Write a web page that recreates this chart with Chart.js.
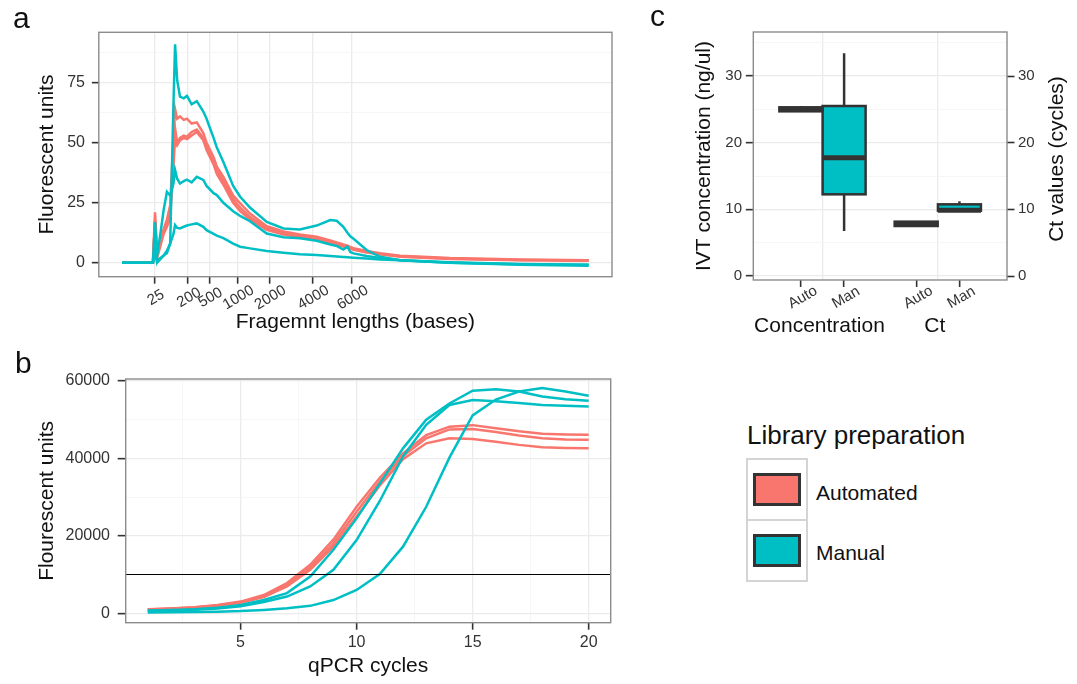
<!DOCTYPE html>
<html>
<head>
<meta charset="utf-8">
<title>Library preparation comparison</title>
<script src="https://cdn.jsdelivr.net/npm/chart.js@4.4.1/dist/chart.umd.min.js"></script>
<style>
  html, body { margin: 0; padding: 0; background: #fff; }
  body { position: relative; width: 1077px; height: 684px; overflow: hidden;
         font-family: "Liberation Sans", Arial, Helvetica, sans-serif; color: #111; }
  canvas { position: absolute; }
  .tag { position: absolute; font-size: 30px; line-height: 1; }
  .lt { position: absolute; left: 747px; top: 422px; font-size: 26px; line-height: 1; white-space: nowrap; }
  .cell { position: absolute; left: 746px; width: 62px; height: 63px; box-sizing: border-box; border: 2px solid #d4d4d4; }
  .sw { position: absolute; left: 5px; top: 13px; width: 48px; height: 33px; box-sizing: border-box; border: 3px solid #333; }
  .lab { position: absolute; left: 816px; font-size: 21px; line-height: 1; white-space: nowrap; }
</style>
</head>
<body>
<canvas id="chartA" width="640" height="342" style="left:0;top:0"></canvas>
<canvas id="chartB" width="640" height="342" style="left:0;top:342px"></canvas>
<canvas id="chartC" width="437" height="342" style="left:640px;top:0"></canvas>
<div class="tag" style="left:13px;top:3px">a</div>
<div class="tag" style="left:15px;top:348px">b</div>
<div class="tag" style="left:650px;top:1px">c</div>
<div id="legend"></div>
<script>
Chart.defaults.font.family = "'Liberation Sans', Arial, Helvetica, sans-serif";
Chart.defaults.color = '#333';

// groups
const groups = ['Automated', 'Manual'];
const groupColors = ['#F8766D', '#00BFC4'];

// a: Bioanalyzer traces, x = migration time (arbitrary units), ladder sizes as tick labels
const ladderSizes = ['25', '200', '500', '1000', '2000', '4000', '6000'];
const ladderTimes = [7.05, 14.13, 18.73, 24.74, 31.56, 40.78, 49.22];
const traceTime = [0, 6.6, 7.05, 7.5, 8.2, 8.9, 9.6, 10.3, 11.0, 11.35,
  11.8, 12.4, 13.2, 13.9, 14.9, 16.0, 17.4, 18.1, 19.6, 20.3,
  21.7, 23.8, 25.3, 27.4, 31.0, 34.6, 38.1, 41.7, 44.6, 46.0,
  47.4, 48.3, 48.9, 49.6, 52.4, 55.3, 59.6, 70.3, 85.3, 100];
const traceAuto1 = [0, 0, 21, 4, 9, 14, 18, 24, 52, 64,
  60, 61, 59.5, 60, 58, 58.5, 54, 50, 44, 40,
  35.8, 28, 24.8, 20.5, 15.2, 13, 11.8, 10.9, 9.3, 8.5,
  7.6, 7.1, 6.6, 6.1, 4.9, 4.0, 2.9, 2.0, 1.4, 1.1];
const traceAuto2 = [0, 0, 18, 3, 8, 13, 16, 21, 45, 56,
  50, 52, 53, 52.5, 54.5, 55.5, 52, 48, 42, 38.5,
  34, 26.5, 23, 19, 14.4, 12.3, 11.2, 10.3, 8.7, 8.0,
  7.2, 6.7, 6.3, 5.8, 4.6, 3.7, 2.7, 1.8, 1.2, 0.9];
const traceAuto3 = [0, 0, 17, 2, 7, 12, 15, 19, 40, 52,
  49, 51, 52, 51.5, 53, 54.5, 51, 47, 41, 37,
  32.5, 25, 21.5, 18, 13.7, 11.8, 10.7, 9.8, 8.2, 7.5,
  6.8, 6.3, 5.9, 5.4, 4.3, 3.5, 2.5, 1.6, 1.1, 0.8];
const traceMan1 = [0, 0, 3, 1, 2, 3, 4, 8, 66, 91,
  76, 69.2, 68.5, 69.5, 66, 67.3, 63, 60, 52, 48,
  42, 32, 27.5, 23, 17, 14.3, 13.9, 15.5, 17.8, 17.5,
  15, 12.5, 11, 10, 5.3, 2.5, 1.1, 0, -0.8, -1.2];
const traceMan2 = [0, 0, 17, 3, 12, 22, 29.6, 28, 33, 38.6,
  35, 33, 34, 34.6, 33.5, 35.8, 34.5, 32, 29, 28.2,
  25, 21.5, 19.5, 17.3, 12.2, 10.6, 10.2, 9.2, 7.6, 7.0,
  5.5, 6.7, 4.5, 3.9, 2.8, 2.0, 1.1, 0, -0.6, -0.8];
const traceMan3 = [0, 0, 5, 0, 1.5, 3, 5, 8, 12, 15.7,
  14.5, 14.3, 15, 15.5, 16, 16.4, 15, 13.6, 12, 11.3,
  10.3, 8.0, 6.7, 6.0, 4.9, 4.2, 3.6, 3.2, 2.8, 2.6,
  2.4, 2.3, 2.2, 2.1, 1.8, 1.4, 1.1, 0.2, -0.5, -0.8];
const traceTicks = [0, 25, 50, 75];

// b: qPCR amplification curves
const cycles = [1, 2, 3, 4, 5, 6, 7, 8, 9, 10, 11, 12, 13, 14, 15, 16, 17, 18, 19, 20];
const qpcrAuto1 = [1000, 1250, 1550, 2100, 3000, 4700, 7800, 12500, 19000, 27500, 35000, 41300, 46000, 48200, 48600, 47800, 47000, 46400, 46200, 46100];
const qpcrAuto2 = [950, 1200, 1500, 2000, 2850, 4400, 7300, 11800, 18000, 26200, 34000, 40600, 45200, 47500, 47600, 46800, 45900, 45200, 44900, 44800];
const qpcrAuto3 = [900, 1100, 1400, 1900, 2700, 4200, 6900, 11200, 17200, 25000, 33000, 39800, 43900, 45200, 45000, 44300, 43500, 42900, 42700, 42600];
const qpcrMan1 = [700, 800, 1000, 1400, 2100, 3400, 5200, 9500, 16400, 24500, 33500, 42600, 50000, 54200, 57500, 57900, 57300, 56000, 55300, 54900];
const qpcrMan2 = [600, 700, 900, 1200, 1800, 2900, 4300, 6900, 11200, 18900, 29000, 40500, 48700, 53800, 55100, 54800, 54300, 53800, 53600, 53400];
const qpcrMan3 = [200, 250, 300, 400, 550, 860, 1300, 1900, 3400, 6000, 10100, 17200, 27500, 40200, 51100, 55200, 57300, 58200, 57300, 56200];
const qpcrThreshold = 10000;
const cycleTicks = [5, 10, 15, 20];
const qpcrTicks = [0, 20000, 40000, 60000];

// c: boxplots (IVT concentration and Ct)
const boxCats = ['Concentration', 'Ct'];
const boxSubLabels = ['Auto', 'Man'];
const autoMin = [24.7, 7.5];
const autoQ1 = [24.7, 7.5];
const autoMed = [25.0, 7.8];
const autoQ3 = [25.3, 8.15];
const autoMax = [25.5, 8.25];
const manMin = [6.75, 9.8];
const manQ1 = [12.25, 9.8];
const manMed = [17.75, 9.85];
const manQ3 = [25.5, 10.75];
const manMax = [33.4, 11.2];
const boxTicks = [0, 10, 20, 30];

// ---- shared helpers
const GRID = '#EBEBEB', GRID_MINOR = '#F4F4F4', INK = '#333';
const fontFam = "'Liberation Sans', Arial, Helvetica, sans-serif";

function fixSize(w, h) {
  return s => {
    if (w !== null) s.width = w;
    if (h !== null) s.height = h;
    s.paddingTop = 0; s.paddingBottom = 0; s.paddingLeft = 0; s.paddingRight = 0;
  };
}
function withMinor(majors) {
  const step = majors[1] - majors[0];
  const out = [];
  majors.forEach(v => { out.push(v); out.push(v + step / 2); });
  out.push(majors[0] - step / 2);
  return out.sort((a, b) => a - b);
}
function gridFor(majors, tickLen) {
  const isMajor = c => c.tick && majors.includes(c.tick.value);
  return {
    color: c => isMajor(c) ? GRID : GRID_MINOR,
    lineWidth: c => isMajor(c) ? 1.3 : 0.8,
    tickColor: c => isMajor(c) ? INK : 'rgba(0,0,0,0)',
    tickLength: tickLen,
    tickWidth: 1.6
  };
}
function lineSet(xs, ys, color) {
  return {
    data: xs.map((x, i) => ({ x: x, y: ys[i] })),
    borderColor: color, borderWidth: 2.5, pointRadius: 0, tension: 0, fill: false
  };
}
const panelBorder = {
  id: 'panelBorder',
  afterDraw(chart) {
    const { ctx, chartArea: a } = chart;
    ctx.save();
    ctx.strokeStyle = '#8c8c8c';
    ctx.lineWidth = 1.4;
    ctx.strokeRect(a.left, a.top, a.right - a.left, a.bottom - a.top);
    ctx.restore();
  }
};
const baseOpts = { responsive: false, animation: false, events: [],
  plugins: { legend: { display: false }, tooltip: { enabled: false } } };

// ---- a
const ladderLabels = {
  id: 'ladderLabels',
  afterDraw(chart) {
    const { ctx, scales: { x }, chartArea } = chart;
    ctx.save();
    ctx.font = '15px ' + fontFam;
    ctx.fillStyle = INK;
    ctx.textAlign = 'center';
    ctx.textBaseline = 'middle';
    ladderTimes.forEach((t, i) => {
      ctx.save();
      ctx.translate(x.getPixelForValue(t) + 1, chartArea.bottom + 21);
      ctx.rotate(-Math.PI / 6);
      ctx.fillText(ladderSizes[i], 0, 0);
      ctx.restore();
    });
    ctx.restore();
  }
};

new Chart(document.getElementById('chartA'), {
  type: 'line',
  data: {
    datasets: [
      lineSet(traceTime, traceMan1, groupColors[1]),
      lineSet(traceTime, traceMan2, groupColors[1]),
      lineSet(traceTime, traceMan3, groupColors[1]),
      lineSet(traceTime, traceAuto1, groupColors[0]),
      lineSet(traceTime, traceAuto2, groupColors[0]),
      lineSet(traceTime, traceAuto3, groupColors[0])
    ]
  },
  options: {
    ...baseOpts,
    layout: { padding: { top: 32.3, right: 28, left: 0, bottom: 0 } },
    scales: {
      x: {
        type: 'linear', min: -5, max: 105, offset: false,
        afterFit: fixSize(null, 65.3),
        afterBuildTicks: s => { s.ticks = ladderTimes.map(v => ({ value: v })); },
        grid: gridFor(ladderTimes, 7),
        border: { display: false },
        ticks: { callback: () => '', autoSkip: false, maxRotation: 0 },
        title: { display: true, text: 'Fragemnt lengths (bases)', color: '#111',
                 font: { size: 21 }, padding: { top: 0, bottom: 6.7 } }
      },
      y: {
        min: -5.8, max: 96,
        afterFit: fixSize(98.8, null),
        afterBuildTicks: s => { s.ticks = withMinor(traceTicks).filter(v => v >= -5.8 && v <= 96).map(v => ({ value: v })); },
        grid: gridFor(traceTicks, 7),
        border: { display: false },
        ticks: { callback: v => traceTicks.includes(v) ? String(v) : '', font: { size: 16 }, padding: 6.8, autoSkip: false },
        title: { display: true, text: 'Fluorescent units', color: '#111',
                 font: { size: 21 }, padding: { top: 35.1, bottom: 0 } }
      }
    }
  },
  plugins: [ladderLabels, panelBorder]
});

// ---- b
const thresholdLine = {
  id: 'thresholdLine',
  afterDatasetsDraw(chart) {
    const { ctx, scales: { y }, chartArea: a } = chart;
    const py = y.getPixelForValue(qpcrThreshold);
    ctx.save();
    ctx.strokeStyle = '#000';
    ctx.lineWidth = 1.2;
    ctx.beginPath();
    ctx.moveTo(a.left, py);
    ctx.lineTo(a.right, py);
    ctx.stroke();
    ctx.restore();
  }
};

new Chart(document.getElementById('chartB'), {
  type: 'line',
  data: {
    datasets: [
      lineSet(cycles, qpcrMan1, groupColors[1]),
      lineSet(cycles, qpcrMan2, groupColors[1]),
      lineSet(cycles, qpcrMan3, groupColors[1]),
      lineSet(cycles, qpcrAuto1, groupColors[0]),
      lineSet(cycles, qpcrAuto2, groupColors[0]),
      lineSet(cycles, qpcrAuto3, groupColors[0])
    ]
  },
  options: {
    ...baseOpts,
    layout: { padding: { top: 37, right: 29.3, left: 0, bottom: 0 } },
    scales: {
      x: {
        type: 'linear', min: 0.05, max: 20.95, offset: false,
        afterFit: fixSize(null, 61.3),
        afterBuildTicks: s => { s.ticks = withMinor(cycleTicks).filter(v => v > 0.05 && v < 20.95).map(v => ({ value: v })); },
        grid: gridFor(cycleTicks, 7),
        border: { display: false },
        ticks: { callback: v => cycleTicks.includes(v) ? String(v) : '', font: { size: 16 }, padding: 3.2, autoSkip: false, maxRotation: 0 },
        title: { display: true, text: 'qPCR cycles', color: '#111',
                 font: { size: 21 }, padding: { top: 0, bottom: 5.2 } }
      },
      y: {
        min: -2450, max: 60520,
        afterFit: fixSize(125.7, null),
        afterBuildTicks: s => { s.ticks = withMinor(qpcrTicks).filter(v => v >= 0 && v <= 60520).map(v => ({ value: v })); },
        grid: gridFor(qpcrTicks, 8),
        border: { display: false },
        ticks: { callback: v => qpcrTicks.includes(v) ? String(v) : '', font: { size: 16 }, padding: 7.7, autoSkip: false },
        title: { display: true, text: 'Flourescent units', color: '#111',
                 font: { size: 21 }, padding: { top: 35.1, bottom: 0 } }
      }
    }
  },
  plugins: [thresholdLine, panelBorder]
});

// ---- c
const dodge = 0.1875;
const boxPositions = [];
boxCats.forEach((c, i) => { boxPositions.push(i + 1 - dodge, i + 1 + dodge); });
const catPositions = boxCats.map((c, i) => i + 1);

// whiskers, box outline (stroke centred on the edges) and median
const boxExtras = {
  id: 'boxExtras',
  afterDatasetsDraw(chart) {
    const { ctx, scales: { y } } = chart;
    const stats = [[autoMin, autoQ1, autoMed, autoQ3, autoMax], [manMin, manQ1, manMed, manQ3, manMax]];
    ctx.save();
    ctx.strokeStyle = INK;
    ctx.lineCap = 'butt';
    ctx.lineJoin = 'miter';
    stats.forEach((st, d) => {
      const meta = chart.getDatasetMeta(d);
      boxCats.forEach((c, i) => {
        const bar = meta.data[i];
        const [mn, q1, md, q3, mx] = st.map(a => y.getPixelForValue(a[i]));
        const half = bar.width / 2;
        ctx.lineWidth = 2.5;
        ctx.beginPath();
        ctx.moveTo(bar.x, q3); ctx.lineTo(bar.x, mx);
        ctx.moveTo(bar.x, q1); ctx.lineTo(bar.x, mn);
        ctx.stroke();
        ctx.strokeRect(bar.x - half, q3, bar.width, q1 - q3);
        ctx.lineWidth = 5;
        ctx.beginPath();
        ctx.moveTo(bar.x - half, md);
        ctx.lineTo(bar.x + half, md);
        ctx.stroke();
      });
    });
    ctx.restore();
  }
};
const boxLabels = {
  id: 'boxLabels',
  afterDraw(chart) {
    const { ctx, scales: { x }, chartArea: a } = chart;
    ctx.save();
    ctx.fillStyle = INK;
    ctx.font = '15px ' + fontFam;
    ctx.textAlign = 'center';
    ctx.textBaseline = 'middle';
    boxPositions.forEach((p, k) => {
      ctx.save();
      ctx.translate(x.getPixelForValue(p) + 2, a.bottom + 17.5);
      ctx.rotate(-Math.PI / 6);
      ctx.fillText(boxSubLabels[k % 2], 0, 0);
      ctx.restore();
    });
    ctx.fillStyle = '#111';
    ctx.font = '21px ' + fontFam;
    ctx.textBaseline = 'alphabetic';
    catPositions.forEach((p, i) => {
      ctx.fillText(boxCats[i], x.getPixelForValue(p) - 3, a.bottom + 51.5);
    });
    ctx.save();
    ctx.translate(a.right + 50, (a.top + a.bottom) / 2 + 3);
    ctx.rotate(-Math.PI / 2);
    ctx.textBaseline = 'middle';
    ctx.fillText('Ct values (cycles)', 0, 0);
    ctx.restore();
    ctx.restore();
  }
};

function boxSet(q1, q3, k, color) {
  return {
    data: boxCats.map((c, i) => ({ x: boxPositions[i * 2 + k], y: [q1[i], q3[i]] })),
    backgroundColor: color, borderWidth: 0,
    barThickness: 43, grouped: false
  };
}

const allBoxTicks = [...boxPositions, ...catPositions].sort((a, b) => a - b);
new Chart(document.getElementById('chartC'), {
  type: 'bar',
  data: {
    datasets: [
      boxSet(autoQ1, autoQ3, 0, groupColors[0]),
      boxSet(manQ1, manQ3, 1, groupColors[1])
    ]
  },
  options: {
    ...baseOpts,
    layout: { padding: { top: 32, right: 0, left: 0, bottom: 0 } },
    scales: {
      x: {
        type: 'linear', min: 0.4, max: 2.6, offset: false,
        afterFit: fixSize(null, 62),
        afterBuildTicks: s => { s.ticks = allBoxTicks.map(v => ({ value: v })); },
        grid: {
          offset: false,
          color: c => c.tick && catPositions.includes(c.tick.value) ? GRID : 'rgba(0,0,0,0)',
          lineWidth: 1.3,
          tickColor: c => c.tick && boxPositions.includes(c.tick.value) ? INK : 'rgba(0,0,0,0)',
          tickLength: 7, tickWidth: 1.6
        },
        border: { display: false },
        ticks: { callback: () => '', autoSkip: false, maxRotation: 0 }
      },
      y: {
        min: -0.6, max: 36.6,
        afterFit: fixSize(113.3, null),
        afterBuildTicks: s => { s.ticks = withMinor(boxTicks).filter(v => v >= 0 && v <= 36.6).map(v => ({ value: v })); },
        grid: gridFor(boxTicks, 7.5),
        border: { display: false },
        ticks: { callback: v => boxTicks.includes(v) ? String(v) : '', font: { size: 15 }, padding: 3.8, autoSkip: false },
        title: { display: true, text: 'IVT concentration (ng/ul)', color: '#111',
                 font: { size: 21 }, padding: { top: 51.4, bottom: 0 } }
      },
      y2: {
        type: 'linear', position: 'right', min: -0.6, max: 36.6,
        afterFit: fixSize(70, null),
        afterBuildTicks: s => { s.ticks = boxTicks.map(v => ({ value: v })); },
        grid: { drawOnChartArea: false, tickColor: INK, tickLength: 7.5, tickWidth: 1.6 },
        border: { display: false },
        ticks: { callback: v => String(v), font: { size: 15 }, padding: 3.5, autoSkip: false }
      }
    }
  },
  plugins: [boxExtras, boxLabels, panelBorder]
});

// ---- legend
const legend = document.getElementById('legend');
let html = '<div class="lt">Library preparation</div>';
groups.forEach((g, i) => {
  html += '<div class="cell" style="top:' + (458 + i * 61) + 'px"><div class="sw" style="background:' + groupColors[i] + '"></div></div>';
  html += '<div class="lab" style="top:' + (482 + i * 60) + 'px">' + g + '</div>';
});
legend.innerHTML = html;
</script>
</body>
</html>
